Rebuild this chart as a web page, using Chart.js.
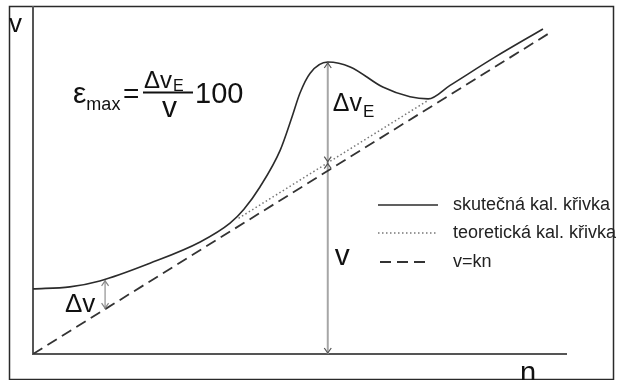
<!DOCTYPE html>
<html>
<head>
<meta charset="utf-8">
<title>Kalibrační křivka</title>
<script src="https://cdn.jsdelivr.net/npm/chart.js"></script>
<style>
  html, body { margin: 0; padding: 0; background: #fff; }
  #wrap { width: 620px; height: 380px; }
</style>
</head>
<body>
<div id="wrap"><canvas id="chart"></canvas></div>
<script>
// skutečná kalibrační křivka
var curveN = [0, 6.9, 12.5, 21.9, 31.3, 36.9, 39.5, 42.5, 46.3, 48.5, 50.0, 51.9, 55.2, 59.4, 65.5, 70.6, 74.0, 78.1, 86.5, 95.5];
var curveV = [18.7, 19.3, 21.0, 26.1, 32.2, 37.6, 41.6, 48.0, 58.6, 68.1, 75.0, 80.7, 83.9, 82.5, 76.7, 73.9, 73.3, 77.2, 85.3, 93.4];

// teoretická kalibrační křivka
var theoryN = [38.5, 74.0];
var theoryV = [39.0, 72.9];

// v = kn
var lineN = [0, 97.2];
var lineV = [0, 92.7];

// šipky: Δv_E a v u maxima, Δv na začátku
var peakN = 55.2, peakV = 83.9, peakTheoryV = 55.0;
var startN = 13.5, startV = 21.3, startLineV = 12.9;

var legendLabels = ['skutečná kal. křivka', 'teoretická kal. křivka', 'v=kn'];

function pts(xs, ys) {
  return xs.map(function(x, i) { return { x: x, y: ys[i] }; });
}

var FONT = '"Liberation Sans", Arial, sans-serif';

function arrowHead(ctx, x, y, dir) {
  // dir: -1 = points up, 1 = points down
  ctx.beginPath();
  ctx.moveTo(x - 3.5, y - dir * 5);
  ctx.lineTo(x, y);
  ctx.lineTo(x + 3.5, y - dir * 5);
  ctx.stroke();
}

function txt(ctx, s, x, y, size) {
  ctx.font = size + 'px ' + FONT;
  ctx.fillText(s, x, y);
  return ctx.measureText(s).width;
}

var decor = {
  id: 'decor',
  beforeDraw: function(chart) {
    var ctx = chart.ctx;
    ctx.save();
    ctx.fillStyle = '#fff';
    ctx.fillRect(0, 0, chart.width, chart.height);
    ctx.restore();
  },
  beforeDatasetsDraw: function(chart) {
    var ctx = chart.ctx, a = chart.chartArea;
    ctx.save();
    // outer frame
    ctx.strokeStyle = '#2a2a2a';
    ctx.lineWidth = 1.5;
    ctx.strokeRect(9.5, 6.5, 604, 373);
    // axes
    ctx.strokeStyle = '#555';
    ctx.lineWidth = 2;
    ctx.beginPath();
    ctx.moveTo(a.left, a.top);
    ctx.lineTo(a.left, a.bottom);
    ctx.lineTo(a.right, a.bottom);
    ctx.stroke();

    // arrows (gray)
    var xs = chart.scales.x, ys = chart.scales.y;
    var px = xs.getPixelForValue(peakN);
    var yTop = ys.getPixelForValue(peakV);
    var yBot = ys.getPixelForValue(0);
    ctx.strokeStyle = '#a6a6a6';
    ctx.lineWidth = 2;
    ctx.beginPath();
    ctx.moveTo(px, yTop);
    ctx.lineTo(px, yBot);
    ctx.stroke();
    var sx = xs.getPixelForValue(startN);
    var sTop = ys.getPixelForValue(startV);
    var sBot = ys.getPixelForValue(startLineV);
    ctx.lineWidth = 1.5;
    ctx.beginPath();
    ctx.moveTo(sx, sTop);
    ctx.lineTo(sx, sBot);
    ctx.stroke();
    ctx.restore();
  },
  afterDatasetsDraw: function(chart) {
    var ctx = chart.ctx;
    var xs = chart.scales.x, ys = chart.scales.y;
    ctx.save();
    var px = xs.getPixelForValue(peakN);
    var yTop = ys.getPixelForValue(peakV);
    var yMid = ys.getPixelForValue(peakTheoryV);
    var yBot = ys.getPixelForValue(0);
    var sx = xs.getPixelForValue(startN);
    var sTop = ys.getPixelForValue(startV);
    var sBot = ys.getPixelForValue(startLineV);
    ctx.strokeStyle = '#555';
    ctx.lineWidth = 1.2;
    arrowHead(ctx, px, yTop + 1, -1);
    arrowHead(ctx, px, yMid - 1, 1);
    arrowHead(ctx, px, yMid + 1, -1);
    arrowHead(ctx, px, yBot - 1, 1);
    ctx.strokeStyle = '#888';
    arrowHead(ctx, sx, sTop + 1, -1);
    arrowHead(ctx, sx, sBot - 1, 1);

    // texts
    ctx.fillStyle = '#111';
    ctx.textBaseline = 'alphabetic';
    ctx.textAlign = 'left';
    txt(ctx, 'v', 9, 32, 26);
    txt(ctx, 'n', 520, 382, 29);

    // formula
    var w = txt(ctx, 'ε', 73, 103, 30);
    txt(ctx, 'max', 73 + w, 110, 18);
    txt(ctx, '=', 123, 103, 28);
    w = txt(ctx, 'Δv', 144, 88, 24);
    txt(ctx, 'E', 144 + w + 1, 91, 16);
    ctx.strokeStyle = '#111';
    ctx.lineWidth = 2;
    ctx.beginPath();
    ctx.moveTo(143, 92.5);
    ctx.lineTo(193, 92.5);
    ctx.stroke();
    txt(ctx, 'v', 162, 117, 30);
    txt(ctx, '100', 195, 103, 29);

    // ΔvE label
    w = txt(ctx, 'Δv', px + 5, 111, 25);
    txt(ctx, 'E', px + 5 + w + 1, 117, 17);
    // v label
    txt(ctx, 'v', px + 7, 265, 30);
    // Δv label
    txt(ctx, 'Δv', 65, 312, 26);

    // legend
    var ds = chart.data.datasets;
    var rows = [205, 233, 262];
    for (var i = 0; i < 3; i++) {
      var d = ds[i];
      ctx.strokeStyle = d.borderColor;
      ctx.lineWidth = d.borderWidth;
      ctx.setLineDash(d.borderDash || []);
      ctx.beginPath();
      if (i === 2) {
        ctx.moveTo(380, rows[i]);
        ctx.lineTo(429, rows[i]);
      } else {
        ctx.moveTo(378, rows[i]);
        ctx.lineTo(438, rows[i]);
      }
      ctx.stroke();
      ctx.setLineDash([]);
      ctx.fillStyle = '#222';
      ctx.textBaseline = 'middle';
      txt(ctx, legendLabels[i], 453, rows[i], 18);
    }
    ctx.restore();
  }
};

new Chart(document.getElementById('chart'), {
  type: 'line',
  data: {
    datasets: [
      {
        label: legendLabels[0],
        data: pts(curveN, curveV),
        borderColor: '#2b2b2b',
        borderWidth: 1.6,
        pointRadius: 0,
        cubicInterpolationMode: 'monotone',
        fill: false
      },
      {
        label: legendLabels[1],
        data: pts(theoryN, theoryV),
        borderColor: '#777',
        borderWidth: 1.5,
        borderDash: [1.5, 2.5],
        pointRadius: 0,
        fill: false
      },
      {
        label: legendLabels[2],
        data: pts(lineN, lineV),
        borderColor: '#333',
        borderWidth: 1.8,
        borderDash: [11, 6],
        pointRadius: 0,
        fill: false
      }
    ]
  },
  options: {
    responsive: true,
    maintainAspectRatio: false,
    animation: false,
    layout: { padding: { left: 33, right: 53, top: 6, bottom: 26 } },
    plugins: {
      legend: { display: false },
      tooltip: { enabled: false }
    },
    scales: {
      x: { type: 'linear', min: 0, max: 100, display: false },
      y: { type: 'linear', min: 0, max: 100, display: false }
    }
  },
  plugins: [decor]
});
</script>
</body>
</html>
